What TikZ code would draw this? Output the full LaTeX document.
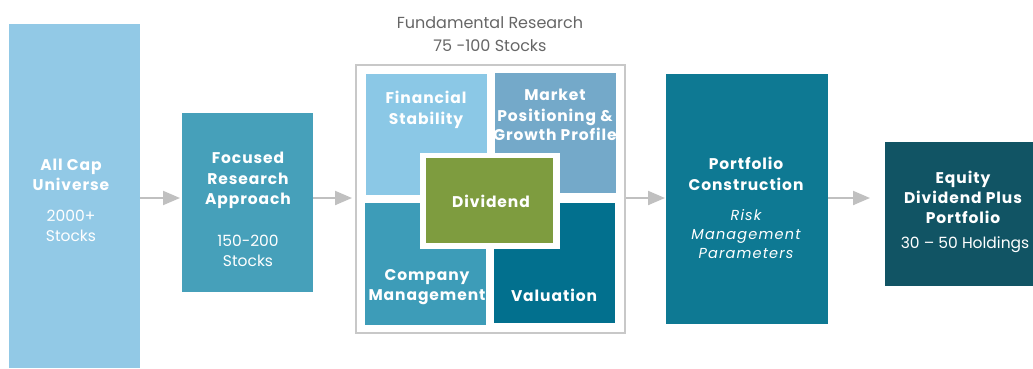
\documentclass[tikz,border=0pt]{standalone}
\usepackage{fontspec}
\setmainfont{Poppins}
\newfontfamily\hdfont[LetterSpace=6]{Poppins}
\newfontfamily\itfont[LetterSpace=8]{Poppins}
\usetikzlibrary{arrows.meta}
\definecolor{cAll}{HTML}{92C9E6}
\definecolor{cFoc}{HTML}{46A0BA}
\definecolor{cFin}{HTML}{8BC8E6}
\definecolor{cMkt}{HTML}{74A9C9}
\definecolor{cCom}{HTML}{3D9CB8}
\definecolor{cVal}{HTML}{02708E}
\definecolor{cDiv}{HTML}{7E9C3F}
\definecolor{cPor}{HTML}{0E7993}
\definecolor{cEq}{HTML}{115464}
\definecolor{cGrayTxt}{HTML}{666666}
\definecolor{cArr}{HTML}{C0C0C0}
\definecolor{cFrame}{HTML}{C8C8C8}
\tikzset{
  box/.style={draw=none, inner sep=0pt, outer sep=0pt},
  hd/.style={anchor=base, text=white, inner sep=0pt, font=\hdfont\bfseries\fontsize{15.5}{19}\selectfont},
  sub/.style={anchor=base, text=white, inner sep=0pt, font=\fontsize{15.5}{19}\selectfont},
  itl/.style={anchor=base, text=white, inner sep=0pt, font=\itfont\itshape\fontsize{14.5}{19}\selectfont},
  gtxt/.style={anchor=base, text=cGrayTxt, inner sep=0pt, font=\fontsize{16}{19}\selectfont},
  arr/.style={draw=cArr, line width=2pt, -{Triangle[length=17pt,width=14pt]}},
}
\begin{document}
\begin{tikzpicture}[x=1pt,y=-1pt]
\useasboundingbox (0,0) rectangle (1033,368);
% boxes
\path[fill=cAll] (9,24) rectangle (140,368) coordinate (allbr);
\node[box, minimum width=131pt, minimum height=344pt] (all) at (74.5,196) {};
\node[box, fill=cFoc, minimum width=131pt, minimum height=179pt] (foc) at (247.5,202.5) {};
\node[box, draw=cFrame, line width=2.5pt, minimum width=269pt, minimum height=268pt] (fund) at (490.5,199) {};
\node[box, fill=cFin, minimum width=121pt, minimum height=121pt] (fin) at (426.5,134.5) {};
\node[box, fill=cMkt, minimum width=121pt, minimum height=120pt] (mkt) at (555.5,133) {};
\node[box, fill=cCom, minimum width=121pt, minimum height=122pt] (com) at (425.5,264) {};
\node[box, fill=cVal, minimum width=121pt, minimum height=120pt] (val) at (554.5,263) {};
\node[box, fill=white, minimum width=140pt, minimum height=96pt] (divw) at (490,200.5) {};
\node[box, fill=cDiv, minimum width=127pt, minimum height=85pt] (div) at (489.5,200.5) {};
\node[box, fill=cPor, minimum width=162pt, minimum height=250pt] (por) at (747,199) {};
\path[fill=cEq] (885,142) rectangle (1033,286);
\node[box, minimum width=148pt, minimum height=144pt] (eq) at (959,214) {};
% arrows
\coordinate (ay) at (0,198);
\draw[arr] (all.east |- ay) -- ([xshift=-2pt]foc.west |- ay);
\draw[arr] (foc.east |- ay) -- ([xshift=-4pt]fund.west |- ay);
\draw[arr] ([xshift=1pt]fund.east |- ay) -- ([xshift=-1pt]por.west |- ay);
\draw[arr] (por.east |- ay) -- ([xshift=-15pt]eq.west |- ay);
% texts
\node[hd] (t1a) at (71,170) {All Cap};
\node[hd] (t1b) at (71,190) {Universe};
\node[sub] (t1c) at (71,221) {2000+};
\node[sub] (t1d) at (71,241) {Stocks};
\node[hd] (t2a) at (248,163) {Focused};
\node[hd] (t2b) at (248,184) {Research};
\node[hd] (t2c) at (248,204) {Approach};
\node[sub] (t2d) at (248,246) {150-200};
\node[sub] (t2e) at (248,266) {Stocks};
\node[gtxt] (tf1) at (490,28) {Fundamental Research};
\node[gtxt] (tf2) at (490,51) {75 -100 Stocks};
\node[hd] (tq1a) at (426,103) {Financial};
\node[hd] (tq1b) at (426,124) {Stability};
\node[hd] (tq2a) at (555,100) {Market};
\node[hd] (tq2b) at (555,121) {Positioning \&};
\node[hd] (tq2c) at (555,140) {Growth Profile};
\node[hd] (tq3a) at (427,280) {Company};
\node[hd] (tq3b) at (427,300) {Management};
\node[hd] (tq4) at (554,301) {Valuation};
\node[hd] (tdv) at (491,207) {Dividend};
\node[hd] (t3a) at (746,169) {Portfolio};
\node[hd] (t3b) at (746,190) {Construction};
\node[itl] (t3c) at (746,220) {Risk};
\node[itl] (t3d) at (746,239) {Management};
\node[itl] (t3e) at (746,258) {Parameters};
\node[hd] (t4a) at (963,183) {Equity};
\node[hd] (t4b) at (963,203) {Dividend Plus};
\node[hd] (t4c) at (963,223) {Portfolio};
\node[sub] (t4d) at (965,248) {30 – 50 Holdings};
\end{tikzpicture}
\end{document}
